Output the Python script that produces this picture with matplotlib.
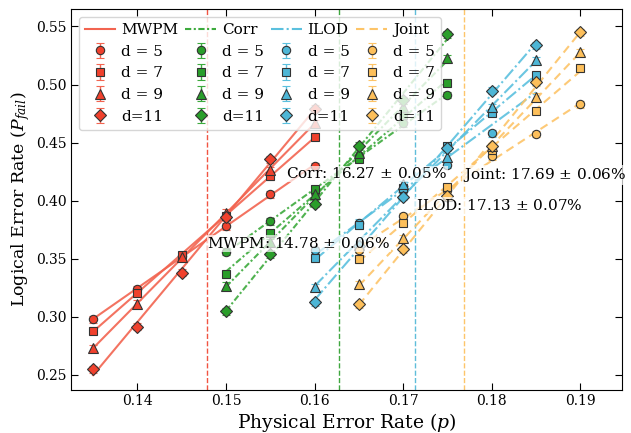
import numpy as np
import matplotlib
matplotlib.use("Agg")
import matplotlib.pyplot as plt
from matplotlib.lines import Line2D

plt.rcParams['font.family'] = 'serif'
plt.rcParams['font.serif'] = ['DejaVu Serif']
plt.rcParams['mathtext.fontset'] = 'dejavuserif'

# physical error rates sampled for each decoder
p_mwpm = [0.135, 0.140, 0.145, 0.150, 0.155, 0.160]
p_corr = [0.150, 0.155, 0.160, 0.165, 0.170, 0.175]
p_ilod = [0.160, 0.165, 0.170, 0.175, 0.180, 0.185]
p_joint = [0.165, 0.170, 0.175, 0.180, 0.185, 0.190]

distances = [5, 7, 9, 11]
dist_labels = ['d = 5', 'd = 7', 'd = 9', 'd=11']

# logical error rates, one row per distance
mwpm = [[0.2978, 0.3239, 0.3525, 0.3780, 0.4057, 0.4298],
        [0.2880, 0.3207, 0.3530, 0.3870, 0.4212, 0.4550],
        [0.2728, 0.3110, 0.3515, 0.3896, 0.4264, 0.4668],
        [0.2548, 0.2914, 0.3380, 0.3856, 0.4358, 0.4790]]
corr = [[0.3560, 0.3824, 0.4077, 0.4385, 0.4668, 0.4910],
        [0.3368, 0.3717, 0.4096, 0.4360, 0.4737, 0.5016],
        [0.3267, 0.3640, 0.4053, 0.4407, 0.4806, 0.5226],
        [0.3049, 0.3537, 0.3975, 0.4473, 0.4866, 0.5432]]
ilod = [[0.3575, 0.3810, 0.4090, 0.4307, 0.4582, 0.5030],
        [0.3503, 0.3790, 0.4111, 0.4470, 0.4756, 0.5082],
        [0.3253, 0.3620, 0.4140, 0.4378, 0.4806, 0.5211],
        [0.3124, 0.3610, 0.4035, 0.4455, 0.4946, 0.5340]]
joint = [[0.3575, 0.3867, 0.4090, 0.4381, 0.4574, 0.4830],
         [0.3494, 0.3810, 0.4115, 0.4440, 0.4772, 0.5145],
         [0.3279, 0.3675, 0.4041, 0.4470, 0.4895, 0.5277],
         [0.3107, 0.3580, 0.4040, 0.4468, 0.5019, 0.5450]]
yerr = 0.003

thresholds = [0.1478, 0.1627, 0.1713, 0.1769]
th_text = ['MWPM: 14.78 $\\pm$ 0.06%', 'Corr: 16.27 $\\pm$ 0.05%',
           'ILOD: 17.13 $\\pm$ 0.07%', 'Joint: 17.69 $\\pm$ 0.06%']
th_text_pos = [(0.1479, 0.363), (0.1568, 0.423), (0.1714, 0.396), (0.1767, 0.422)]

names = ['MWPM', 'Corr', 'ILOD', 'Joint']
xs = [p_mwpm, p_corr, p_ilod, p_joint]
ys = [mwpm, corr, ilod, joint]
colors = ['#F0412D', '#2A9E2A', '#4DB6D6', '#FDBF5A']
line_colors = ['#F26450', '#3DAA3D', '#5BC0DE', '#FDC468']
styles = ['-', (0, (3, 1.2, 1, 1.2)), (0, (6, 1.5, 1, 1.5)), (0, (4, 2.5))]
markers = ['o', 's', '^', 'D']
msizes = [6, 6, 6.5, 6.5]

fig, ax = plt.subplots(figsize=(6.31, 4.33), dpi=100)
fig.subplots_adjust(left=0.1125, right=0.9857, top=0.9785, bottom=0.0993)

for th, c in zip(thresholds, colors):
    ax.axvline(th, color=c, ls='--', lw=1.0, alpha=0.9, zorder=1)

handles = []
for name, x, Y, c, lc, st in zip(names, xs, ys, colors, line_colors, styles):
    x = np.array(x)
    ln = Line2D([], [], color=lc, ls=st, lw=1.5)
    group = [ln]
    for k, (yy, m, ms, lab) in enumerate(zip(Y, markers, msizes, dist_labels)):
        coef = np.polyfit(x, yy, 1)
        ax.plot(x, np.polyval(coef, x), color=lc, ls=st, lw=1.5, alpha=0.9, zorder=2)
        eb = ax.errorbar(x, yy, yerr=yerr, fmt=m, ms=ms, color=c, mec='#333333', mew=0.8,
                         ecolor=lc, elinewidth=1.0, capsize=3, capthick=1.0, alpha=1,
                         label=lab, zorder=3)
        group.append(eb)
    ln.set_label(name)
    handles += group

for txt, (tx, ty) in zip(th_text, th_text_pos):
    ax.text(tx, ty, txt, fontsize=11, ha='left', va='center', zorder=5,
            bbox=dict(facecolor='white', edgecolor='none', alpha=0.7, pad=0.5))

ax.set_xlim(0.1325, 0.1947)
ax.set_ylim(0.2369, 0.5648)
ax.set_xticks([0.14, 0.15, 0.16, 0.17, 0.18, 0.19])
ax.set_yticks([0.25, 0.30, 0.35, 0.40, 0.45, 0.50, 0.55])
ax.tick_params(direction='in', top=True, right=True, length=5, labelsize=10, pad=3)
ax.set_xlabel('Physical Error Rate ($p$)', fontsize=13.5, labelpad=2)
ax.set_ylabel('Logical Error Rate ($P_{fail}$)', fontsize=12.5, labelpad=3)

ax.legend(handles=handles, labels=[h.get_label() for h in handles], ncol=4,
          loc='upper left', fontsize=11, handlelength=2.0, columnspacing=0.45,
          labelspacing=0.5, handletextpad=0.4, borderaxespad=0.5)

fig.savefig('out.png', dpi=100)
